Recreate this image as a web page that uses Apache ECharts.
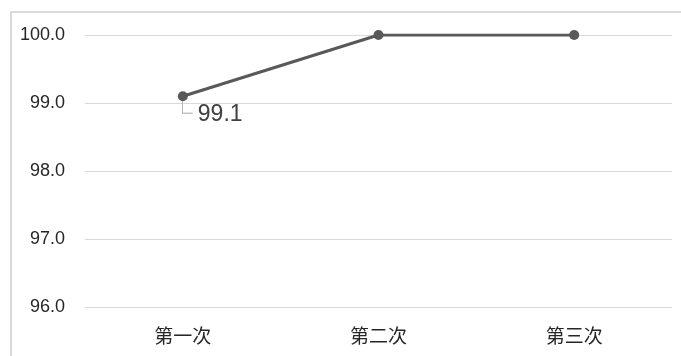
<!DOCTYPE html>
<html>
<head>
<meta charset="utf-8">
<script src="https://cdn.jsdelivr.net/npm/echarts@6/dist/echarts.min.js"></script>
<style>
  html, body { margin: 0; padding: 0; background: #fff; }
  #main { width: 681px; height: 356px; }
</style>
</head>
<body>
<div id="main"></div>
<script>
// 数据
var categories = ['第一次', '第二次', '第三次'];
var values = [99.1, 100.0, 100.0];
var yMin = 96, yMax = 100, yStep = 1;
var labelIndex = [0]; // 只有第一个点显示数据标签

var narrowFont = '"Liberation Sans Narrow", "Liberation Sans", Arial, sans-serif';
var cjkFont = '"Noto Sans CJK SC", "Noto Sans CJK JP", sans-serif';

// 引线图片 (竖线 + 横线)
var elbowSvg = 'data:image/svg+xml;utf8,' + encodeURIComponent(
  '<svg xmlns="http://www.w3.org/2000/svg" width="11" height="28">' +
  '<path d="M0.5 0 V12.5 H11" fill="none" stroke="#a6a6a6" stroke-width="1"/></svg>'
);

var myChart = echarts.init(document.getElementById('main'));

var option = {
  animation: false,
  backgroundColor: '#fff',
  //外框
  graphic: [{
    type: 'rect',
    shape: { x: 11, y: 12, width: 800, height: 500 },
    style: { fill: 'none', stroke: '#d9d9d9', lineWidth: 2 },
    silent: true
  }],
  grid: {
    left: 85,
    right: 9,
    top: 35,
    bottom: 49
  },
  xAxis: {
    type: 'category',
    data: categories,
    boundaryGap: true,
    axisLine: { show: false },
    axisTick: { show: false },
    axisLabel: {
      color: '#262626',
      fontSize: 19,
      fontFamily: cjkFont,
      margin: 19
    }
  },
  yAxis: {
    type: 'value',
    min: yMin,
    max: yMax,
    interval: yStep,
    axisLine: { show: false },
    axisTick: { show: false },
    axisLabel: {
      color: '#262626',
      fontSize: 18,
      fontFamily: narrowFont,
      margin: 20,
      formatter: function (v) { return v.toFixed(1); }
    },
    splitLine: {
      lineStyle: { color: '#d9d9d9', width: 1 }
    }
  },
  series: [{
    type: 'line',
    data: values.map(function (v, i) {
      var item = { value: v };
      if (labelIndex.indexOf(i) >= 0) {
        item.label = {
          show: true,
          position: [4, 9.5],
          formatter: '{g|}{v|' + v.toFixed(1) + '}',
          rich: {
            g: {
              width: 11,
              height: 28,
              backgroundColor: { image: elbowSvg }
            },
            v: {
              fontSize: 23,
              fontFamily: narrowFont,
              color: '#404040',
              lineHeight: 28,
              padding: [0, 0, 0, 5]
            }
          }
        };
      }
      return item;
    }),
    symbol: 'circle',
    symbolSize: 10,
    lineStyle: { color: '#595959', width: 3 },
    itemStyle: { color: '#595959' },
    label: { show: false }
  }]
};
myChart.setOption(option);
</script>
</body>
</html>
